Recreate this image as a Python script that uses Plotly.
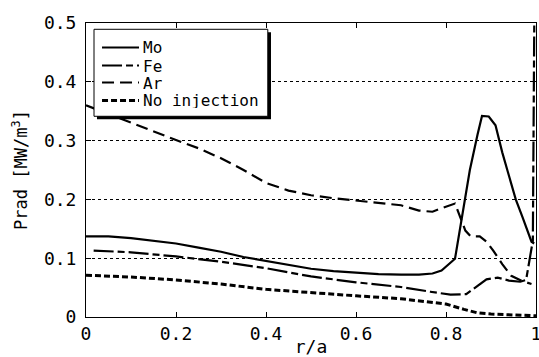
import plotly.graph_objects as go

# ---- data ----
mo_x = [0, 0.05, 0.1, 0.15, 0.2, 0.25, 0.3, 0.35, 0.4, 0.45, 0.5, 0.55, 0.6, 0.65, 0.7, 0.74, 0.77,
        0.79, 0.82, 0.835, 0.853, 0.87, 0.88, 0.895, 0.91, 0.925, 0.942, 0.955, 0.97, 0.99, 0.996]
mo_y = [0.137, 0.137, 0.134, 0.130, 0.125, 0.118, 0.111, 0.102, 0.095, 0.088, 0.082, 0.078, 0.075,
        0.073, 0.072, 0.072, 0.074, 0.079, 0.099, 0.17, 0.25, 0.31, 0.342, 0.341, 0.326, 0.28, 0.232,
        0.2, 0.17, 0.128, 0.125]

fe_x = [0.017, 0.1, 0.2, 0.3, 0.4, 0.5, 0.6, 0.7, 0.765, 0.81, 0.845, 0.87, 0.89, 0.915, 0.94,
        0.965, 0.978, 0.993, 0.997]
fe_y = [0.113, 0.110, 0.103, 0.094, 0.083, 0.069, 0.059, 0.051, 0.043, 0.038, 0.039, 0.053, 0.064,
        0.067, 0.062, 0.060, 0.063, 0.13, 0.6]

ar_x = [0, 0.05, 0.1, 0.15, 0.2, 0.25, 0.3, 0.35, 0.4, 0.45, 0.5, 0.55, 0.6, 0.65, 0.7, 0.74, 0.77,
        0.79, 0.82, 0.843, 0.855, 0.875, 0.89, 0.905, 0.925, 0.945, 0.97, 0.99]
ar_y = [0.36, 0.345, 0.331, 0.315, 0.301, 0.287, 0.27, 0.25, 0.228, 0.215, 0.207, 0.202, 0.198,
        0.195, 0.19, 0.181, 0.179, 0.185, 0.193, 0.147, 0.137, 0.137, 0.128, 0.113, 0.09, 0.07,
        0.061, 0.056]

noinj_x = [0, 0.1, 0.2, 0.3, 0.4, 0.5, 0.6, 0.7, 0.75, 0.8, 0.84, 0.87, 0.9, 0.95, 1.0]
noinj_y = [0.071, 0.068, 0.063, 0.056, 0.047, 0.041, 0.036, 0.031, 0.026, 0.022, 0.013, 0.007,
           0.005, 0.004, 0.002]

series_names = ["Mo", "Fe", "Ar", "No injection"]

x_ticks = [0, 0.2, 0.4, 0.6, 0.8, 1]
x_ticktext = ["0", "0.2", "0.4", "0.6", "0.8", "1"]
y_ticks = [0, 0.1, 0.2, 0.3, 0.4, 0.5]
y_ticktext = ["0", "0.1", "0.2", "0.3", "0.4", "0.5"]

FONT = "DejaVu Sans Mono, Liberation Mono, monospace"

styles = [
    dict(color="black", width=2.2),
    dict(color="black", width=2.2, dash="20px,4px,7px,4px"),
    dict(color="black", width=2.2, dash="12px,6px"),
    dict(color="black", width=3, dash="6px,3px"),
]

fig = go.Figure()
for (xs, ys), name, st in zip([(mo_x, mo_y), (fe_x, fe_y), (ar_x, ar_y), (noinj_x, noinj_y)],
                              series_names, styles):
    fig.add_trace(go.Scatter(x=xs, y=ys, mode="lines", name=name, line=st, showlegend=False))

# ---- hand-drawn legend box (paper coordinates) ----
fig.add_shape(type="rect", xref="paper", yref="paper", x0=0.0244, x1=0.4111, y0=0.6724, y1=0.9684,
              fillcolor="black", line=dict(width=0), layer="above")
fig.add_shape(type="rect", xref="paper", yref="paper", x0=0.0178, x1=0.404, y0=0.6827, y1=0.9786,
              fillcolor="white", line=dict(color="black", width=1), layer="above")
row_y = [0.9167, 0.8554, 0.7976, 0.7364]
for name, st, ry in zip(series_names, styles, row_y):
    fig.add_shape(type="line", xref="paper", yref="paper", x0=0.0356, x1=0.1178, y0=ry, y1=ry,
                  line=st, layer="above")
    fig.add_annotation(xref="paper", yref="paper", x=0.1245, y=ry, text=name, showarrow=False,
                       xanchor="left", yanchor="middle", height=16, borderpad=0,
                       font=dict(size=16, family=FONT))

fig.update_layout(
    width=539, height=357,
    margin=dict(l=86, r=3, t=23, b=40),
    paper_bgcolor="white", plot_bgcolor="white",
    font=dict(family=FONT, color="black", size=18),
    showlegend=False,
    xaxis=dict(range=[0, 1], tickvals=x_ticks, ticktext=x_ticktext,
               ticks="inside", ticklen=5, tickcolor="black", showline=True, linecolor="black",
               linewidth=1, mirror="ticks", showgrid=False, zeroline=False,
               ticklabeloverflow="allow",
               title=dict(text="r/a", standoff=26, font=dict(size=18)),
               tickfont=dict(size=18), automargin=False),
    yaxis=dict(range=[0, 0.5], tickvals=y_ticks, ticktext=y_ticktext,
               ticks="inside", ticklen=5, tickcolor="black", showline=True, linecolor="black",
               linewidth=1, mirror="ticks", showgrid=True, gridcolor="black", griddash="dot",
               gridwidth=1, zeroline=False, ticklabelstandoff=5, ticklabeloverflow="allow",
               title=dict(text="Prad [MW/m<sup>3</sup>]", standoff=11, font=dict(size=17)),
               tickfont=dict(size=18), automargin=False),
)

fig.write_html("out.html", config={"displayModeBar": False},
               post_script="document.body.style.margin='0';document.body.style.overflow='hidden';")
